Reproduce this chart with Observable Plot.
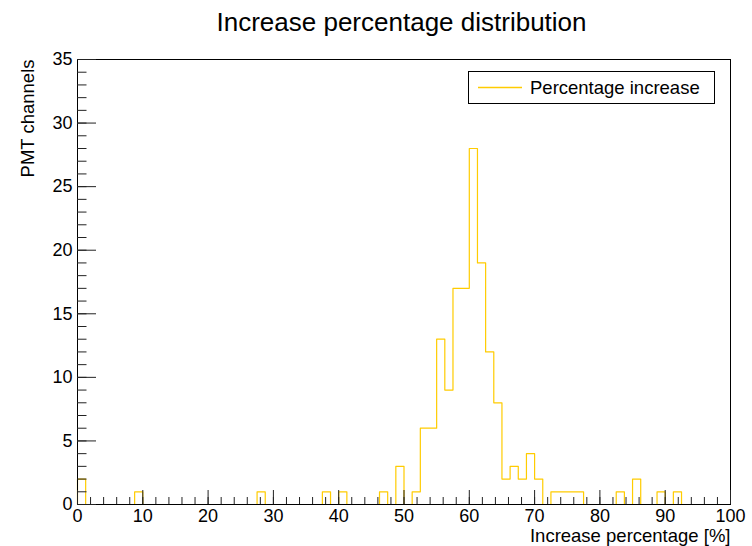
<!DOCTYPE html>
<html><head><meta charset="utf-8">
<script src="https://cdn.jsdelivr.net/npm/d3@7"></script>
<script src="https://cdn.jsdelivr.net/npm/@observablehq/plot@0.6"></script>
<style>
body{margin:0;background:#fff;font-family:"Liberation Sans",Arial,sans-serif}
#wrap{position:relative;width:752px;height:546px}
#legend{position:absolute;left:468px;top:71px;width:245px;height:31px;border:1px solid #000;background:#fff;box-sizing:content-box}
#legend svg{position:absolute;left:0;top:0}
#legend .lb{position:absolute;left:61px;top:0;line-height:31px;font-size:18.5px;color:#000;white-space:nowrap}
</style>
</head><body>
<div id="wrap"><div id="legend"><svg width="60" height="31"><line x1="9" x2="53" y1="15.5" y2="15.5" stroke="#ffcc00" stroke-width="1.3"/></svg><div class="lb">Percentage increase</div></div></div>
<script>
// Histogram: 80 bins of width 1.25 over [0, 100]
const binStart = 0;
const binWidth = 1.25;
const counts = [
  2,0,0,0,0,0,0,1,0,0,
  0,0,0,0,0,0,0,0,0,0,
  0,0,1,0,0,0,0,0,0,0,
  1,0,1,0,0,0,0,1,0,3,
  0,1,6,6,13,9,17,17,28,19,
  12,8,2,3,2,4,2,0,1,1,
  1,1,0,0,0,0,1,0,2,0,
  0,1,0,1,0,0,0,0,0,0
];
const xMajor = [0,10,20,30,40,50,60,70,80,90,100];
const xMinor = d3.range(0, 101, 2);
const yMajor = [0,5,10,15,20,25,30,35];
const yMinor = d3.range(0, 36, 1);
const title = "Increase percentage distribution";
const xLabel = "Increase percentage [%]";
const yLabel = "PMT channels";

// step outline points built from the bins
const pts = [{x: binStart, y: 0}];
counts.forEach((c, i) => {
  pts.push({x: binStart + i * binWidth, y: c});
  pts.push({x: binStart + (i + 1) * binWidth, y: c});
});
pts.push({x: binStart + counts.length * binWidth, y: 0});

const W = 752, H = 546, mL = 77, mR = 22, mT = 59, mB = 42;
const fw = W - mL - mR, fh = H - mT - mB;

const chart = Plot.plot({
  width: W, height: H,
  marginLeft: mL, marginRight: mR, marginTop: mT, marginBottom: mB,
  x: {domain: [0, 100], label: null},
  y: {domain: [0, 35], label: null},
  style: {fontFamily: '"Liberation Sans", Arial, sans-serif', fontSize: "18px", background: "white", color: "black", overflow: "visible"},
  marks: [
    Plot.line(pts, {x: "x", y: "y", stroke: "#ffcc00", strokeWidth: 1.2}),
    Plot.frame({stroke: "black", strokeWidth: 1}),
    Plot.tickX(xMinor, {x: d => d, insetTop: fh - 7, stroke: "#222"}),
    Plot.tickX(xMajor, {x: d => d, insetTop: fh - 14, stroke: "#222"}),
    Plot.tickY(yMinor, {y: d => d, insetRight: fw - 9.5, stroke: "#222"}),
    Plot.tickY(yMajor, {y: d => d, insetRight: fw - 19, stroke: "#222"}),
    Plot.axisX(xMajor, {tickSize: 0, tickPadding: 5, fontSize: 18, label: null}),
    Plot.axisY(yMajor, {tickSize: 0, tickPadding: 5, fontSize: 18, label: null}),
    Plot.text([title], {text: d => d, frameAnchor: "top", dx: -2.5, dy: -29, lineAnchor: "bottom", fontSize: 26}),
    Plot.text([xLabel], {text: d => d, frameAnchor: "bottom-right", textAnchor: "end", lineAnchor: "bottom", dy: 37, fontSize: 18.5}),
    Plot.text([yLabel], {text: d => d, frameAnchor: "top-left", textAnchor: "end", lineAnchor: "bottom", rotate: -90, dx: -43.5, fontSize: 18.5})
  ]
});
document.getElementById("wrap").prepend(chart);
</script>
</body></html>
